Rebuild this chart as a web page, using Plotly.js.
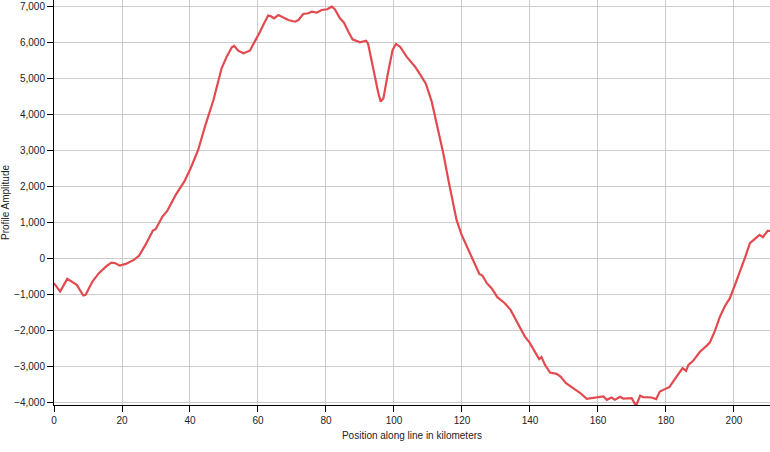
<!DOCTYPE html>
<html>
<head>
<meta charset="utf-8">
<script src="https://cdn.plot.ly/plotly-3.0.1.min.js"></script>
<style>html,body{margin:0;padding:0;background:#fff;}#chart{width:770px;height:452px;}</style>
</head>
<body>
<div id="chart"></div>
<script>
const positionKm = [0, 1.8, 3.9, 5.9, 6.7, 8.6, 9.3, 11.3, 13.2, 15.5, 16.9, 18.1, 19.3, 21.1, 23.5, 25, 26.9, 29.1, 29.9, 31.9, 33.3, 35.8, 38.3, 40.2, 41.5, 42.4, 44.4, 46.9, 49.3, 50.8, 52.3, 53, 54.2, 55.7, 57.6, 59.1, 60.6, 61.8, 63, 63.7, 64.7, 66, 67.4, 68.9, 70.9, 71.9, 73.3, 74.8, 75.8, 77.3, 78.7, 80.4, 81.7, 82.6, 84.1, 85.3, 86.6, 87.8, 90, 91.8, 92.4, 93.9, 95.4, 96.1, 96.9, 98.3, 99.6, 100.6, 101.8, 103.7, 106.2, 108.1, 109.4, 111.1, 112.6, 114.5, 116, 117.4, 118.4, 119.9, 121.4, 123.3, 125.1, 126, 127.3, 128.7, 130.4, 132.6, 134.3, 135.6, 137.1, 138.5, 139.8, 141, 142.2, 142.7, 143.4, 144.4, 145.9, 147.8, 149, 150.6, 152.7, 154.7, 156.7, 158.1, 160.6, 161.6, 162.6, 164, 165, 166.5, 167.4, 169.9, 171.2, 172.4, 173.3, 175.8, 177.1, 178.2, 179.7, 181, 182.6, 184.1, 184.9, 185.9, 186.6, 188, 190, 192, 192.9, 194.4, 195.9, 197.4, 198.8, 200.3, 201.8, 203.2, 204.7, 206.2, 207.5, 208.5, 209.9, 210.6];
const amplitude = [-694, -928, -575, -694, -742, -1038, -1019, -650, -417, -214, -122, -139, -206, -158, -47, 64, 369, 767, 806, 1156, 1314, 1758, 2128, 2500, 2778, 3008, 3656, 4397, 5278, 5600, 5861, 5897, 5767, 5694, 5767, 6017, 6294, 6528, 6742, 6731, 6667, 6758, 6694, 6619, 6572, 6619, 6786, 6806, 6850, 6822, 6897, 6917, 6989, 6917, 6667, 6544, 6294, 6083, 6000, 6044, 5953, 5231, 4583, 4350, 4444, 5183, 5786, 5953, 5878, 5600, 5322, 5044, 4842, 4350, 3750, 2917, 2175, 1528, 1064, 647, 322, -94, -436, -483, -694, -833, -1083, -1250, -1436, -1667, -1944, -2178, -2333, -2547, -2733, -2806, -2750, -2964, -3178, -3214, -3289, -3472, -3611, -3740, -3908, -3889, -3872, -3844, -3936, -3872, -3936, -3853, -3900, -3889, -4103, -3825, -3861, -3872, -3917, -3706, -3639, -3583, -3361, -3150, -3056, -3131, -2964, -2853, -2600, -2430, -2344, -2020, -1620, -1320, -1111, -742, -372, 0, 417, 528, 647, 583, 758, 760];
const xTicks = [0, 20, 40, 60, 80, 100, 120, 140, 160, 180, 200];
const yTicks = [-4000, -3000, -2000, -1000, 0, 1000, 2000, 3000, 4000, 5000, 6000, 7000];

const font = {family: 'Liberation Sans, Arial, sans-serif', size: 10, color: '#222'};
Plotly.newPlot('chart', [{
  x: positionKm, y: amplitude, type: 'scatter', mode: 'lines',
  line: {color: '#e34a4f', width: 2.2}, hoverinfo: 'x+y'
}], {
  width: 770, height: 452,
  margin: {l: 54, r: 0, t: 0, b: 47},
  paper_bgcolor: '#fff', plot_bgcolor: '#fff',
  font: font,
  showlegend: false,
  xaxis: {
    range: [0, 210.6], tickvals: xTicks, ticks: 'outside', ticklen: 6, tickcolor: '#000',
    showline: true, linecolor: '#000', linewidth: 1, showgrid: true, gridcolor: '#cccccc',
    zeroline: false, tickfont: font,
    title: {text: 'Position along line in kilometers', font: font, standoff: 6}
  },
  yaxis: {
    range: [-4080, 7175], tickvals: yTicks, tickformat: ',', ticks: 'outside', ticklen: 6, tickcolor: '#000',
    showline: true, linecolor: '#000', linewidth: 1, showgrid: true, gridcolor: '#cccccc',
    zeroline: false, tickfont: font,
    title: {text: 'Profile Amplitude', font: font, standoff: 2}
  }
}, {displayModeBar: false, staticPlot: true});
</script>
</body>
</html>
